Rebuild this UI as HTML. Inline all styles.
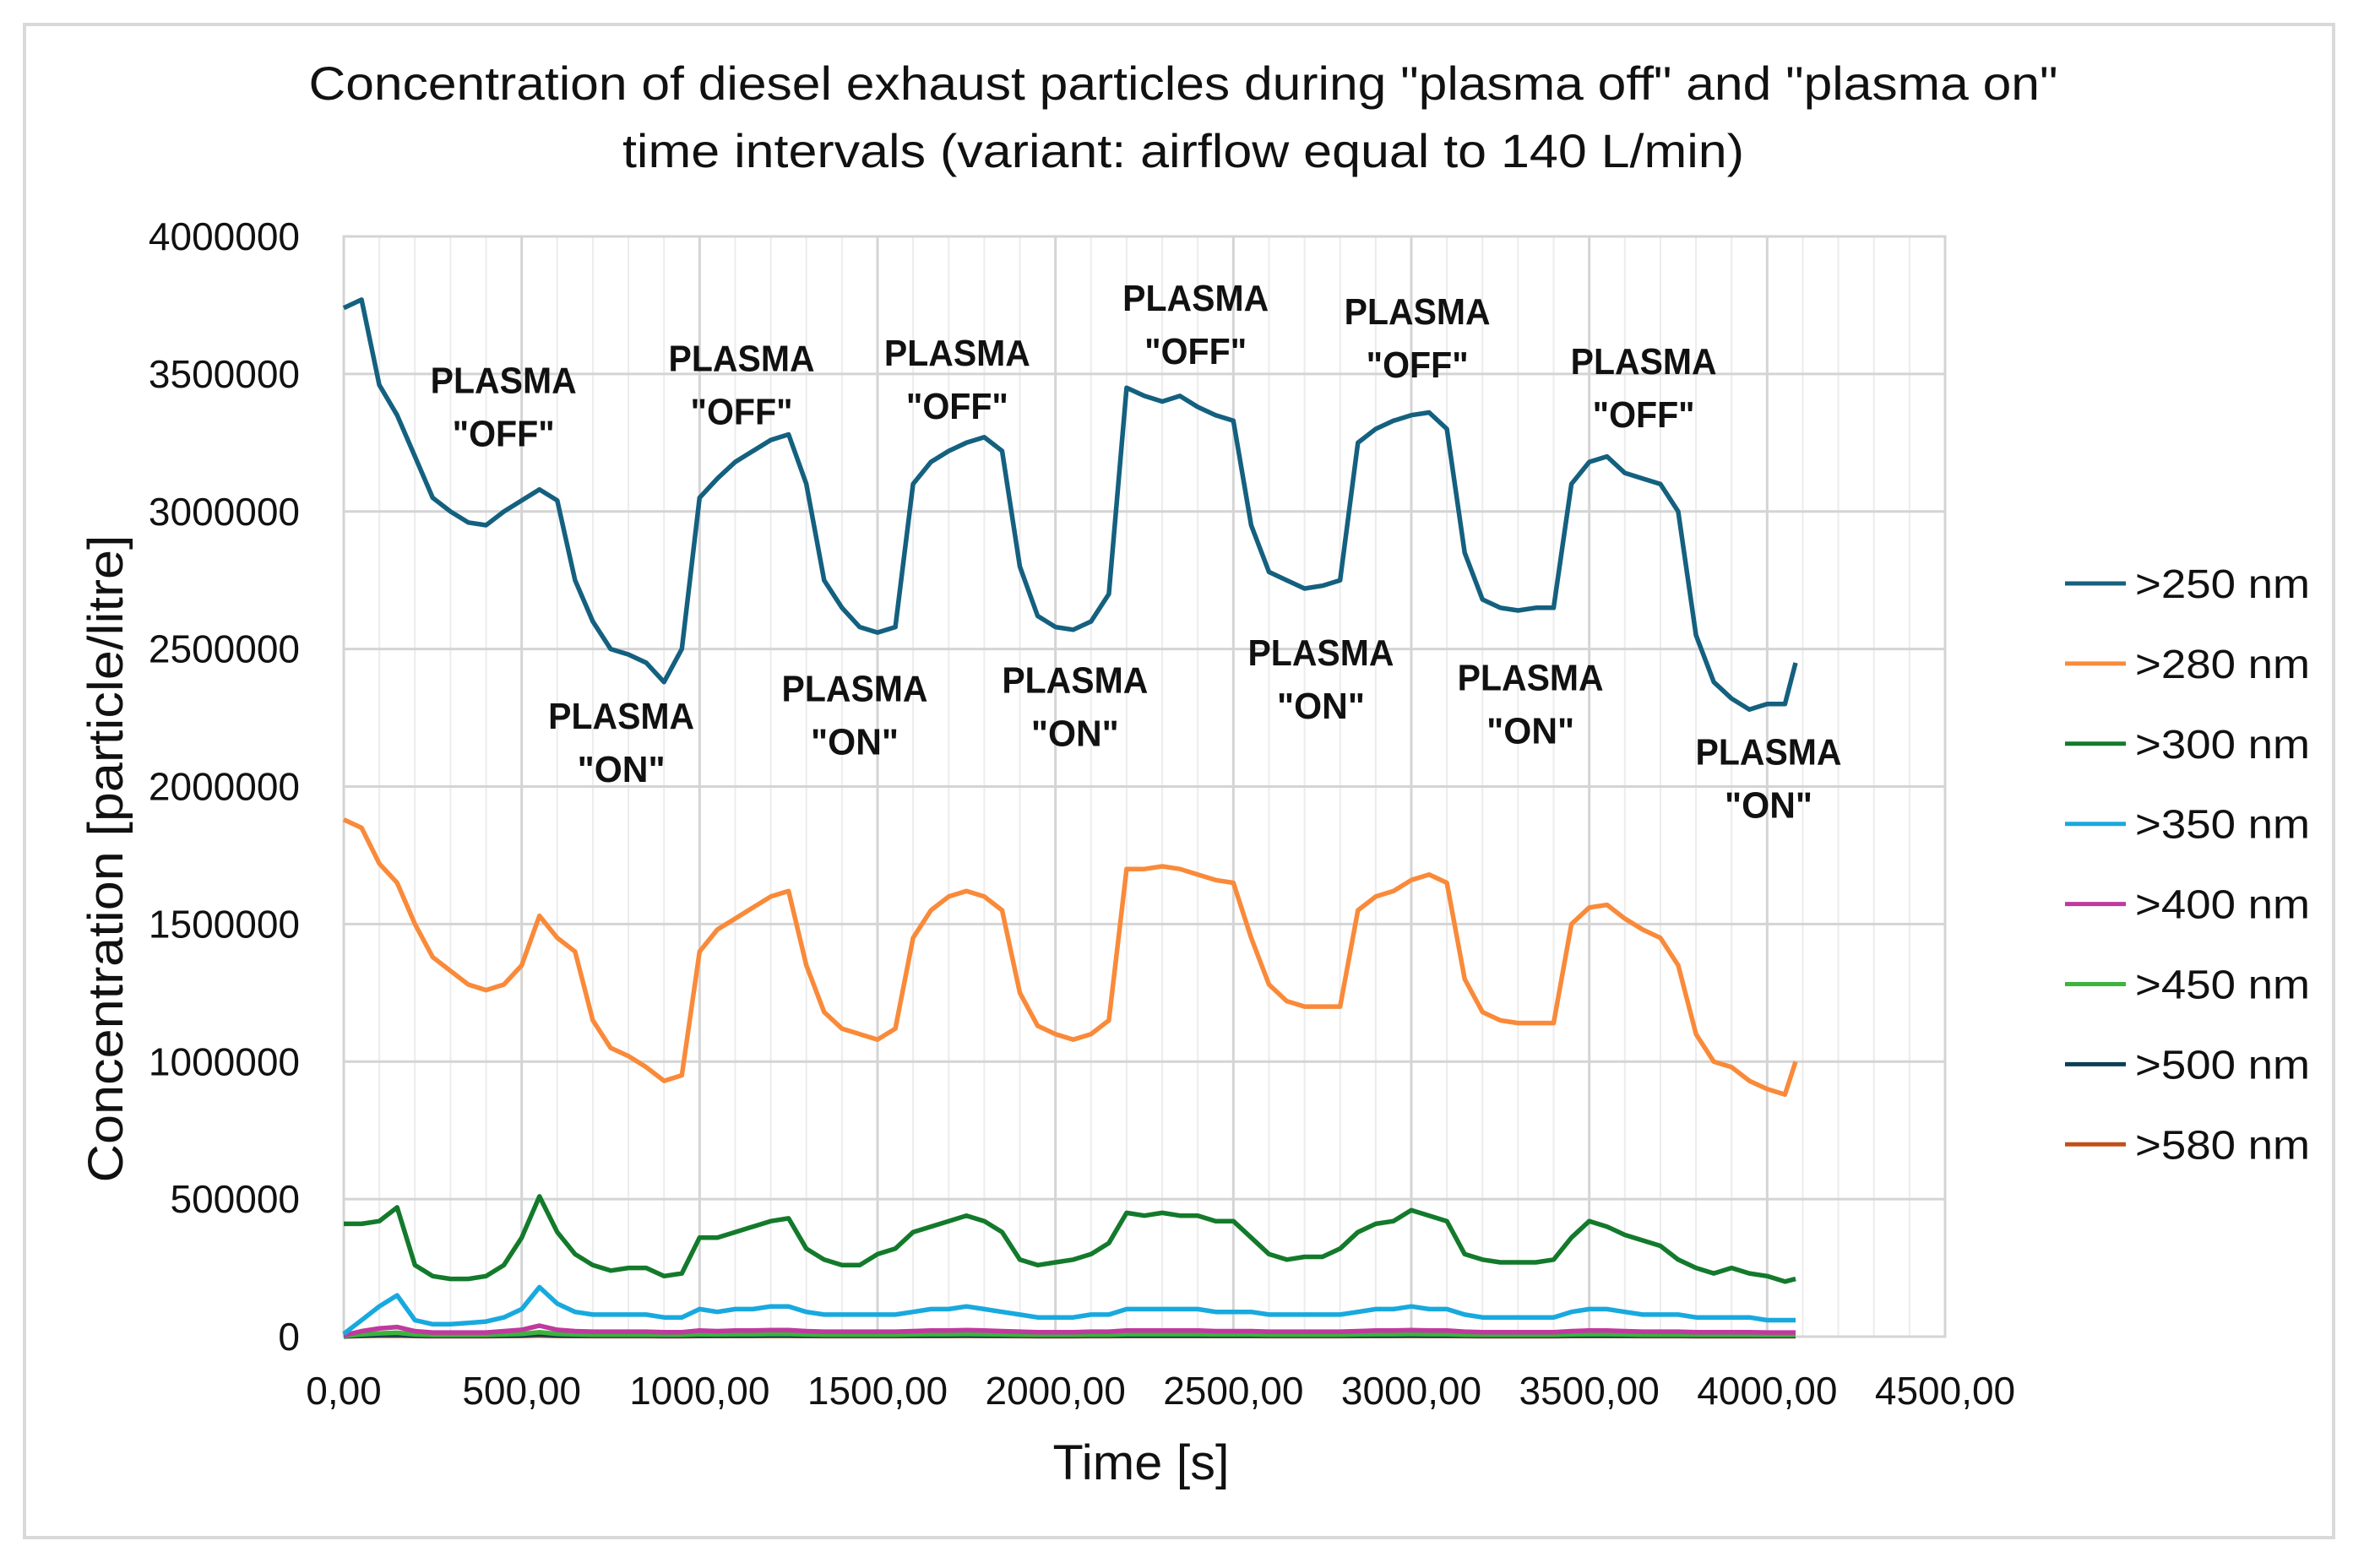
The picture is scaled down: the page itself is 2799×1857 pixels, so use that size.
<!DOCTYPE html>
<html><head><meta charset="utf-8"><style>
html,body{margin:0;padding:0;background:#fff;}
svg{display:block;font-family:"Liberation Sans Narrow","Liberation Sans",sans-serif;}
</style></head><body>
<svg id="chart" width="2799" height="1857" viewBox="0 0 2799 1857" xmlns="http://www.w3.org/2000/svg">
<rect x="0" y="0" width="2799" height="1857" fill="#fff"/>
<rect x="29" y="29" width="2734" height="1792" fill="none" stroke="#d9d9d9" stroke-width="4"/>
<text x="1401" y="118" font-size="56" text-anchor="middle" textLength="2071" lengthAdjust="spacingAndGlyphs" fill="#111">Concentration of diesel exhaust particles during "plasma off" and "plasma on"</text>
<text x="1401" y="198" font-size="56" text-anchor="middle" textLength="1328" lengthAdjust="spacingAndGlyphs" fill="#111">time intervals (variant: airflow equal to 140 L/min)</text>
<g id="grid"></g>
<g id="series"></g>
<g id="axes"></g>
<g id="notes"></g>
<g id="legend"></g>
<text x="1351" y="1752" font-size="58" text-anchor="middle" textLength="209" lengthAdjust="spacingAndGlyphs" fill="#111">Time [s]</text>
<text transform="translate(145,1017) rotate(-90)" font-size="58" text-anchor="middle" textLength="767" lengthAdjust="spacingAndGlyphs" fill="#111">Concentration [particle/litre]</text>
</svg>
<script>
const times = [0,50,100,150,200,250,300,350,400,450,500,550,600,650,700,750,800,850,900,950,1000,1050,1100,1150,1200,1250,1300,1350,1400,1450,1500,1550,1600,1650,1700,1750,1800,1850,1900,1950,2000,2050,2100,2150,2200,2250,2300,2350,2400,2450,2500,2550,2600,2650,2700,2750,2800,2850,2900,2950,3000,3050,3100,3150,3200,3250,3300,3350,3400,3450,3500,3550,3600,3650,3700,3750,3800,3850,3900,3950,4000,4050,4080];
const s250 = [3.74,3.77,3.46,3.35,3.2,3.05,3.0,2.96,2.95,3.0,3.04,3.08,3.04,2.75,2.6,2.5,2.48,2.45,2.38,2.5,3.05,3.12,3.18,3.22,3.26,3.28,3.1,2.75,2.65,2.58,2.56,2.58,3.1,3.18,3.22,3.25,3.27,3.22,2.8,2.62,2.58,2.57,2.6,2.7,3.45,3.42,3.4,3.42,3.38,3.35,3.33,2.95,2.78,2.75,2.72,2.73,2.75,3.25,3.3,3.33,3.35,3.36,3.3,2.85,2.68,2.65,2.64,2.65,2.65,3.1,3.18,3.2,3.14,3.12,3.1,3.0,2.55,2.38,2.32,2.28,2.3,2.3,2.45];
const s280 = [1.88,1.85,1.72,1.65,1.5,1.38,1.33,1.28,1.26,1.28,1.35,1.53,1.45,1.4,1.15,1.05,1.02,0.98,0.93,0.95,1.4,1.48,1.52,1.56,1.6,1.62,1.35,1.18,1.12,1.1,1.08,1.12,1.45,1.55,1.6,1.62,1.6,1.55,1.25,1.13,1.1,1.08,1.1,1.15,1.7,1.7,1.71,1.7,1.68,1.66,1.65,1.45,1.28,1.22,1.2,1.2,1.2,1.55,1.6,1.62,1.66,1.68,1.65,1.3,1.18,1.15,1.14,1.14,1.14,1.5,1.56,1.57,1.52,1.48,1.45,1.35,1.1,1.0,0.98,0.93,0.9,0.88,1.0];
const s300 = [0.41,0.41,0.42,0.47,0.26,0.22,0.21,0.21,0.22,0.26,0.36,0.51,0.38,0.3,0.26,0.24,0.25,0.25,0.22,0.23,0.36,0.36,0.38,0.4,0.42,0.43,0.32,0.28,0.26,0.26,0.3,0.32,0.38,0.4,0.42,0.44,0.42,0.38,0.28,0.26,0.27,0.28,0.3,0.34,0.45,0.44,0.45,0.44,0.44,0.42,0.42,0.36,0.3,0.28,0.29,0.29,0.32,0.38,0.41,0.42,0.46,0.44,0.42,0.3,0.28,0.27,0.27,0.27,0.28,0.36,0.42,0.4,0.37,0.35,0.33,0.28,0.25,0.23,0.25,0.23,0.22,0.2,0.21];
const s350 = [0.01,0.06,0.11,0.15,0.06,0.045,0.045,0.05,0.055,0.07,0.1,0.18,0.12,0.09,0.08,0.08,0.08,0.08,0.07,0.07,0.1,0.09,0.1,0.1,0.11,0.11,0.09,0.08,0.08,0.08,0.08,0.08,0.09,0.1,0.1,0.11,0.1,0.09,0.08,0.07,0.07,0.07,0.08,0.08,0.1,0.1,0.1,0.1,0.1,0.09,0.09,0.09,0.08,0.08,0.08,0.08,0.08,0.09,0.1,0.1,0.11,0.1,0.1,0.08,0.07,0.07,0.07,0.07,0.07,0.09,0.1,0.1,0.09,0.08,0.08,0.08,0.07,0.07,0.07,0.07,0.06,0.06,0.06];
const s400 = [0.005,0.02,0.03,0.035,0.02,0.015,0.015,0.015,0.015,0.02,0.025,0.04,0.025,0.02,0.018,0.018,0.018,0.018,0.016,0.016,0.022,0.02,0.022,0.022,0.024,0.024,0.02,0.018,0.018,0.018,0.018,0.018,0.02,0.022,0.022,0.024,0.022,0.02,0.018,0.016,0.016,0.016,0.018,0.018,0.022,0.022,0.022,0.022,0.022,0.02,0.02,0.02,0.018,0.018,0.018,0.018,0.018,0.02,0.022,0.022,0.024,0.022,0.022,0.018,0.016,0.016,0.016,0.016,0.016,0.02,0.022,0.022,0.02,0.018,0.018,0.018,0.016,0.016,0.016,0.016,0.015,0.015,0.015];
const s450 = times.map((t,i)=>s400[i]*0.4);
const s500 = times.map((t,i)=>s400[i]*0.2);
const s580 = times.map((t,i)=>s400[i]*0.1);
const seriesNames = [">250 nm",">280 nm",">300 nm",">350 nm",">400 nm",">450 nm",">500 nm",">580 nm"];
const seriesColors = ["#14607f","#f98a3a","#137a2b","#18a9de","#c0399f","#3cb43c","#0d3d56","#c0501b"];
const yTicks = [0,500000,1000000,1500000,2000000,2500000,3000000,3500000,4000000];
const xTicks = [0,500,1000,1500,2000,2500,3000,3500,4000,4500];
const xTickLabels = ["0,00","500,00","1000,00","1500,00","2000,00","2500,00","3000,00","3500,00","4000,00","4500,00"];
const notesOff = [[449,3430000],[1118,3510000],[1724,3530000],[2394,3730000],[3017,3680000],[3653,3500000]];
const notesOn = [[780,2210000],[1436,2310000],[2055,2340000],[2746,2440000],[3335,2350000],[4004,2080000]];

const NS="http://www.w3.org/2000/svg";
const L=407,R=2303,T=280,B=1583;
const X=t=>L+(t/4500)*(R-L);
const Y=v=>B-(v/4000000)*(B-T);
function el(tag,attrs,parent,txt){const e=document.createElementNS(NS,tag);for(const k in attrs)e.setAttribute(k,attrs[k]);if(txt!==undefined)e.textContent=txt;parent.appendChild(e);return e;}
const grid=document.getElementById('grid'),axes=document.getElementById('axes'),ser=document.getElementById('series'),notes=document.getElementById('notes'),leg=document.getElementById('legend');
for(let t=100;t<4500;t+=100){if(t%500===0)continue;const g=el('line',{x1:X(t),x2:X(t),y1:T,y2:B,stroke:'#ececec','stroke-width':2},grid);

}
xTicks.forEach((t,i)=>{const g=el('line',{x1:X(t),x2:X(t),y1:T,y2:B,stroke:'#d4d4d4','stroke-width':3},grid);


const lab=el('text',{x:X(t),y:1663,'font-size':46,'text-anchor':'middle',fill:'#111'},axes,xTickLabels[i]);

});
yTicks.forEach(v=>{const g=el('line',{x1:L,x2:R,y1:Y(v),y2:Y(v),stroke:'#d4d4d4','stroke-width':3},grid);


const lab=el('text',{x:355,y:Y(v)+16,'font-size':46,'text-anchor':'end',fill:'#111'},axes,String(v));

});
const frame=el('rect',{x:L,y:T,width:R-L,height:B-T,fill:'none',stroke:'#d4d4d4','stroke-width':3},grid);


const data=[s250,s280,s300,s350,s400,s450,s500,s580];
for(let k=data.length-1;k>=0;k--){const d=data[k].map((v,i)=>(i?'L':'M')+X(times[i]).toFixed(1)+' '+Y(v*1000000).toFixed(1)).join(' ');
const p=el('path',{d:d,fill:'none',stroke:seriesColors[k],'stroke-width':5.5,'stroke-linejoin':'round'},ser);

}
seriesNames.forEach((n,k)=>{const y=691+k*94.9;
const ln=el('line',{x1:2445,x2:2517,y1:y,y2:y,stroke:seriesColors[k],'stroke-width':5},leg);


const tx=el('text',{x:2528,y:y+17,'font-size':48,fill:'#111',textLength:207,lengthAdjust:'spacingAndGlyphs'},leg,n);

});
function note(pos,word,w){const x=X(pos[0]),y=Y(pos[1]);
const a=el('text',{x:x,y:y,'font-size':44,'font-weight':'bold','text-anchor':'middle',fill:'#111',textLength:173,lengthAdjust:'spacingAndGlyphs'},notes,'PLASMA');


const b=el('text',{x:x,y:y+63,'font-size':44,'font-weight':'bold','text-anchor':'middle',fill:'#111',textLength:w,lengthAdjust:'spacingAndGlyphs'},notes,word);

}
notesOff.forEach(p=>note(p,'"OFF"',121));
notesOn.forEach(p=>note(p,'"ON"',104));
</script>
</body></html>
